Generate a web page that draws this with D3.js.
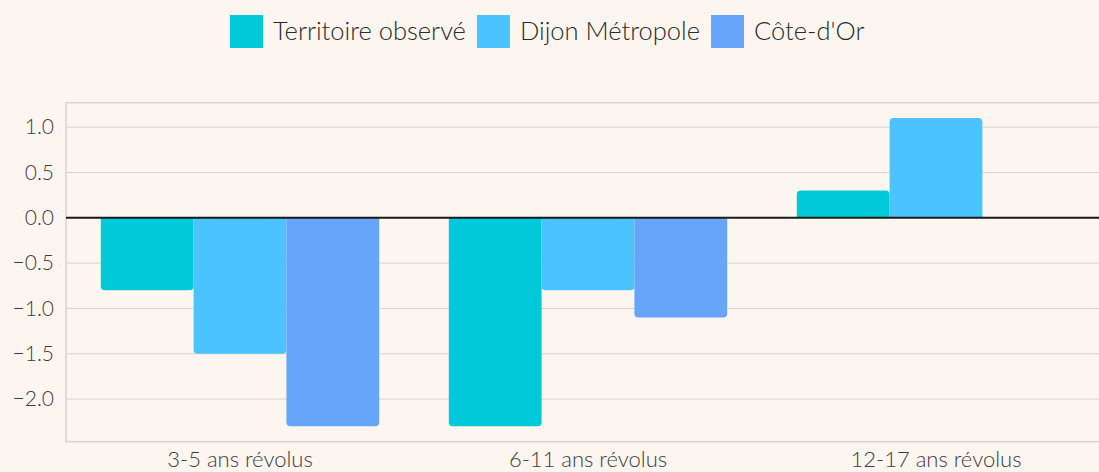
<!DOCTYPE html>
<html>
<head>
<meta charset="utf-8">
<script src="https://cdn.jsdelivr.net/npm/d3@7"></script>
<style>
  html, body { margin: 0; padding: 0; background: #fdf6f0; }
  svg { display: block; font-family: "Lato", "Open Sans", sans-serif; font-weight: 300; }
</style>
</head>
<body>
<svg id="chart" width="1099" height="472"></svg>
<script>
// ─── Data ────────────────────────────────────────────────────────────────────
const categories = ["3-5 ans révolus", "6-11 ans révolus", "12-17 ans révolus"];
const seriesNames = ["Territoire observé", "Dijon Métropole", "Côte-d'Or"];
const seriesColors = ["#00c9da", "#4ac3ff", "#66a6fa"];
const territoire = [-0.8, -2.3, 0.3];
const dijon = [-1.5, -0.8, 1.1];
const coteDor = [-2.3, -1.1, 0.0];
const yTicks = [-2.0, -1.5, -1.0, -0.5, 0.0, 0.5, 1.0];

const seriesValues = [territoire, dijon, coteDor];

// ─── Layout ──────────────────────────────────────────────────────────────────
const svg = d3.select("#chart");
const plot = { left: 66, right: 1110, top: 102.7, bottom: 441.7 };

const x0 = d3.scaleBand()
    .domain(categories)
    .range([plot.left, plot.right])
    .paddingInner(0.2)
    .paddingOuter(0.1);

const x1 = d3.scaleBand()
    .domain(seriesNames)
    .range([0, x0.bandwidth()]);

const y = d3.scaleLinear()
    .domain([-2.47, 1.27])
    .range([plot.bottom, plot.top]);

// ─── Grid + frame ────────────────────────────────────────────────────────────
const grid = svg.append("g");
grid.selectAll("line.grid")
    .data(yTicks.filter(t => t !== 0))
    .join("line")
    .attr("class", "grid")
    .attr("x1", plot.left).attr("x2", plot.right)
    .attr("y1", d => y(d)).attr("y2", d => y(d))
    .attr("stroke", "#d6d3d0").attr("stroke-width", 1);

grid.append("rect")
    .attr("x", plot.left).attr("y", plot.top)
    .attr("width", plot.right - plot.left)
    .attr("height", plot.bottom - plot.top)
    .attr("fill", "none")
    .attr("stroke", "#d6d3d0").attr("stroke-width", 1.5);

// ─── Bars (rounded at the far end from zero) ────────────────────────────────
function barPath(x, w, v) {
    const y0 = y(0), y1 = y(v);
    const h = Math.abs(y1 - y0);
    const r = Math.min(4, h / 2, w / 2);
    const s = v >= 0 ? 1 : -1; // direction away from zero (screen: up = -)
    return [
        `M${x},${y0}`,
        `L${x},${y1 + s * r}`,
        `Q${x},${y1} ${x + r},${y1}`,
        `L${x + w - r},${y1}`,
        `Q${x + w},${y1} ${x + w},${y1 + s * r}`,
        `L${x + w},${y0}`,
        "Z"
    ].join(" ");
}

const bars = [];
categories.forEach((c, i) => {
    seriesNames.forEach((s, j) => {
        bars.push({ cat: c, series: s, value: seriesValues[j][i], color: seriesColors[j] });
    });
});

svg.append("g")
    .selectAll("path")
    .data(bars)
    .join("path")
    .attr("d", d => barPath(x0(d.cat) + x1(d.series), x1.bandwidth(), d.value))
    .attr("fill", d => d.color);

// zero line
svg.append("line")
    .attr("x1", plot.left).attr("x2", plot.right)
    .attr("y1", y(0)).attr("y2", y(0))
    .attr("stroke", "#1a1a1a").attr("stroke-width", 2);

// ─── Axes ────────────────────────────────────────────────────────────────────
const fmt = d => (d < 0 ? "\u2212" : "") + Math.abs(d).toFixed(1);

const yAxis = svg.append("g")
    .attr("transform", `translate(${plot.left},0)`)
    .call(d3.axisLeft(y).tickValues(yTicks).tickFormat(fmt).tickSize(0).tickPadding(12));
yAxis.select(".domain").remove();
yAxis.selectAll("text")
    .attr("font-size", 21).attr("fill", "#3c3c3c")
    .attr("font-family", "Lato, sans-serif").attr("font-weight", 300);

const xAxis = svg.append("g")
    .attr("transform", `translate(0,${plot.bottom})`)
    .call(d3.axisBottom(x0).tickSize(0).tickPadding(10));
xAxis.select(".domain").remove();
xAxis.selectAll("text")
    .attr("font-size", 22).attr("fill", "#3c3c3c")
    .attr("font-family", "Lato, sans-serif").attr("font-weight", 300);

// ─── Legend ──────────────────────────────────────────────────────────────────
const legend = svg.append("g");
let lx = 230;
seriesNames.forEach((name, j) => {
    const g = legend.append("g").attr("transform", `translate(${lx},15)`);
    g.append("rect").attr("width", 33).attr("height", 33).attr("fill", seriesColors[j]);
    const t = g.append("text")
        .attr("x", 43).attr("y", 25)
        .attr("font-size", 25.5).attr("fill", "#2a2a2a")
        .text(name);
    lx += 43 + t.node().getComputedTextLength() + 11;
});
</script>
</body>
</html>
